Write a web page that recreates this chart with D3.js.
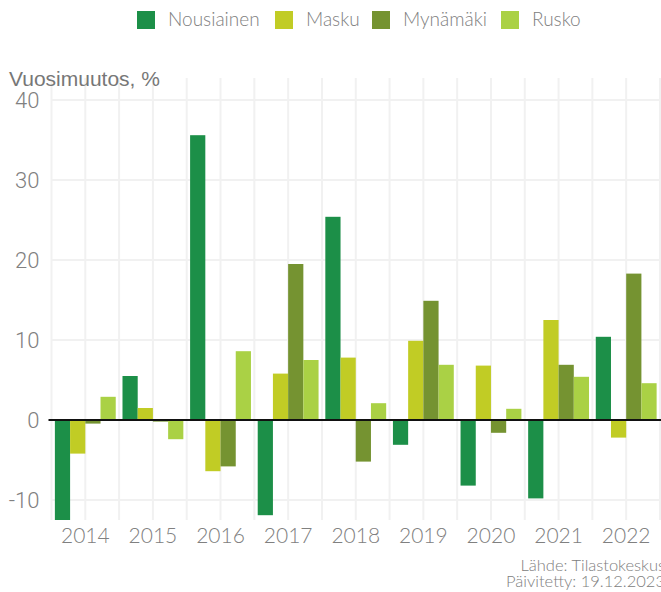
<!DOCTYPE html>
<html>
<head>
<meta charset="utf-8">
<script src="https://cdn.jsdelivr.net/npm/d3@7"></script>
<style>
  body { margin: 0; background: #fff; }
  svg { display: block; }
</style>
</head>
<body>
<script>
var width = 661, height = 592;

// data
var years = ["2014", "2015", "2016", "2017", "2018", "2019", "2020", "2021", "2022"];
var series = ["Nousiainen", "Masku", "Mynämäki", "Rusko"];
var colors = ["#1c8f48", "#c1cc25", "#759331", "#aad145"];
var nousiainen = [-13.2, 5.5, 35.6, -11.9, 25.4, -3.1, -8.2, -9.8, 10.4];
var masku = [-4.2, 1.5, -6.4, 5.8, 7.8, 9.9, 6.8, 12.5, -2.2];
var mynamaki = [-0.45, -0.2, -5.8, 19.5, -5.2, 14.9, -1.6, 6.9, 18.3];
var rusko = [2.9, -2.4, 8.6, 7.5, 2.1, 6.9, 1.4, 5.4, 4.6];
var yTicks = [-10, 0, 10, 20, 30, 40];

var values = [nousiainen, masku, mynamaki, rusko];
var table = years.map(function(y, i) {
  return { year: y, vals: series.map(function(s, j) { return { key: s, idx: j, v: values[j][i] }; }) };
});

var plotL = 51.5, plotR = 660, plotT = 78, plotB = 520;

var svg = d3.select("body").append("svg")
  .attr("width", width)
  .attr("height", height);

var x0 = d3.scaleBand().domain(years).range([plotL, plotR]).padding(0);
var x1 = d3.scaleBand().domain(series)
  .range([x0.bandwidth() * 0.05, x0.bandwidth() * 0.95]).padding(0);
var y = d3.scaleLinear().domain([-12.5, 42.75]).range([plotB, plotT]);

svg.append("clipPath").attr("id", "plot")
  .append("rect").attr("x", plotL).attr("y", plotT)
  .attr("width", plotR - plotL).attr("height", plotB - plotT);

// grid
var grid = svg.append("g");
grid.selectAll(".hg").data(yTicks).enter().append("line")
  .attr("x1", plotL).attr("x2", plotR)
  .attr("y1", function(d) { return y(d); }).attr("y2", function(d) { return y(d); })
  .attr("stroke", "#f1f1f1").attr("stroke-width", 2);

var vlines = [];
years.forEach(function(yr) {
  vlines.push(x0(yr));
  vlines.push(x0(yr) + x0.bandwidth() / 2);
});
vlines.push(plotR);
grid.selectAll(".vg").data(vlines).enter().append("line")
  .attr("x1", function(d) { return d; }).attr("x2", function(d) { return d; })
  .attr("y1", plotT).attr("y2", plotB)
  .attr("stroke", "#f1f1f1").attr("stroke-width", 2);

// bars
var groups = svg.append("g").attr("clip-path", "url(#plot)")
  .selectAll("g").data(table).enter().append("g")
  .attr("transform", function(d) { return "translate(" + x0(d.year) + ",0)"; });

groups.selectAll("rect").data(function(d) { return d.vals; }).enter().append("rect")
  .attr("x", function(d) { return x1(d.key); })
  .attr("width", x1.bandwidth())
  .attr("y", function(d) { return y(Math.max(0, d.v)); })
  .attr("height", function(d) { return Math.abs(y(d.v) - y(0)); })
  .attr("fill", function(d) { return colors[d.idx]; });

// zero line
svg.append("line")
  .attr("x1", plotL - 3).attr("x2", width)
  .attr("y1", y(0)).attr("y2", y(0))
  .attr("stroke", "#111").attr("stroke-width", 2);

// y axis labels
var yAxis = d3.axisLeft(y).tickValues(yTicks).tickSize(0).tickPadding(12)
  .tickFormat(function(d) { return String(d); });
var ya = svg.append("g").attr("transform", "translate(" + plotL + ",0)").call(yAxis);
ya.select(".domain").remove();
ya.selectAll("text")
  .attr("fill", "#808080")
  .style("font-family", "Roboto, 'Liberation Sans', sans-serif")
  .style("font-weight", "300")
  .style("font-size", "22px");

// x axis labels
var xAxis = d3.axisBottom(x0).tickSize(0).tickPadding(8);
var xa = svg.append("g").attr("transform", "translate(0," + plotB + ")").call(xAxis);
xa.select(".domain").remove();
xa.selectAll("text")
  .attr("fill", "#808080")
  .style("font-family", "Lato, 'Open Sans', sans-serif")
  .style("font-weight", "300")
  .style("font-size", "21px");

// y title
svg.append("text")
  .attr("x", 9).attr("y", 86)
  .attr("fill", "#777")
  .style("font-family", "'Liberation Sans', Arial, sans-serif")
  .style("font-size", "21px")
  .text("Vuosimuutos, %");

// legend
var legendX = [137, 275, 372, 501];
var legend = svg.append("g").selectAll("g").data(series).enter().append("g")
  .attr("transform", function(d, i) { return "translate(" + legendX[i] + ",11)"; });
legend.append("rect").attr("width", 18).attr("height", 18)
  .attr("fill", function(d, i) { return colors[i]; });
legend.append("text")
  .attr("x", 31).attr("y", 15)
  .attr("fill", "#808080")
  .style("font-family", "Lato, 'Open Sans', sans-serif")
  .style("font-weight", "300")
  .style("font-size", "19px")
  .text(function(d) { return d; });

// footer
var foot = svg.append("g")
  .style("font-family", "Lato, 'Open Sans', sans-serif")
  .style("font-weight", "300")
  .style("font-size", "16.5px")
  .attr("fill", "#808080")
  .attr("text-anchor", "end");
foot.append("text").attr("x", 665).attr("y", 571).text("Lähde: Tilastokeskus");
foot.append("text").attr("x", 665).attr("y", 587).text("Päivitetty: 19.12.2023");
</script>
</body>
</html>
